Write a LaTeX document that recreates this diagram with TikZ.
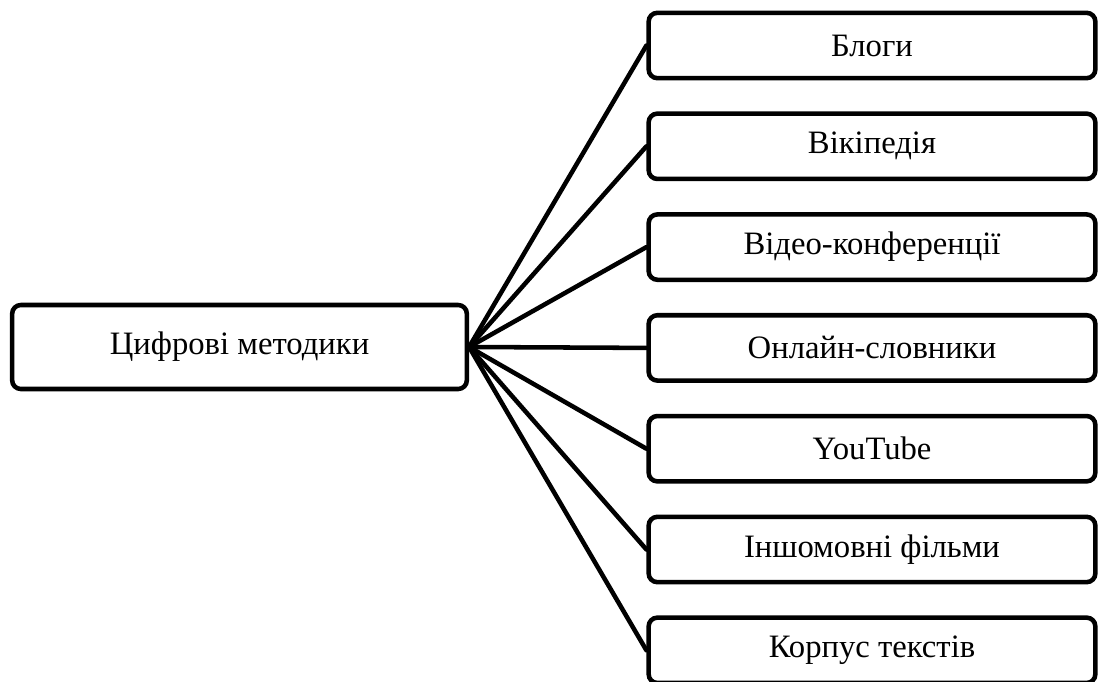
\documentclass[tikz,border=0pt]{standalone}
\usepackage{fontspec}
\setmainfont{Liberation Serif}
\begin{document}
\begin{tikzpicture}[x=0.75pt,y=-0.75pt,
  box/.style={draw=black, line width=3.4pt, rounded corners=6.5pt, fill=white,
    inner sep=0pt, font=\fontsize{24.5}{29}\selectfont},
  leftbox/.style={box, minimum width=341pt, minimum height=63pt},
  rightbox/.style={box, minimum width=335pt, minimum height=49pt},
  link/.style={line width=3.4pt, line cap=round}]
\useasboundingbox (0,0) rectangle (1100,682);
\node[leftbox] (c) at (239.5,347) {Цифрові методики};
\node[rightbox] (r1) at (872,45.5) {Блоги};
\node[rightbox] (r2) at (872,146.3) {Вікіпедія};
\node[rightbox] (r3) at (872,247.1) {Відео-конференції};
\node[rightbox] (r4) at (872,347.9) {Онлайн-словники};
\node[rightbox] (r5) at (872,448.7) {YouTube};
\node[rightbox] (r6) at (872,549.5) {Іншомовні фільми};
\node[rightbox] (r7) at (872,650.3) {Корпус текстів};
\foreach \i in {1,...,7}{
  \draw[link] (c.east) -- (r\i.west);
}
\end{tikzpicture}
\end{document}
